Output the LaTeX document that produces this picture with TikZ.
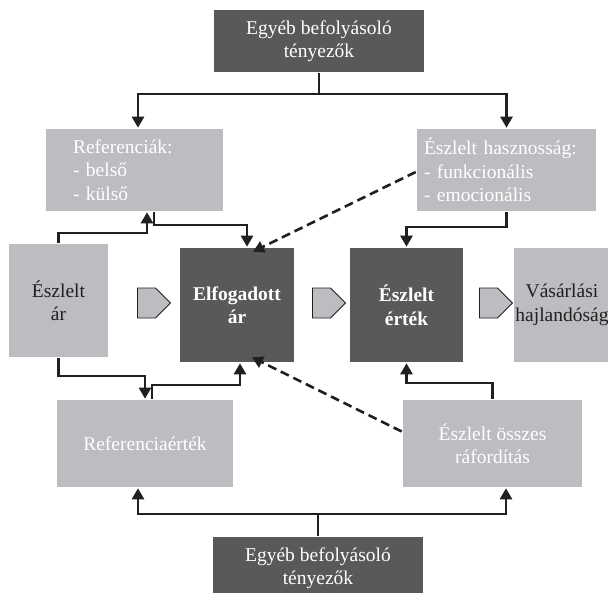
\documentclass[tikz,border=0pt]{standalone}
\usepackage{fontspec}
\setmainfont{Liberation Serif}
\usetikzlibrary{arrows.meta,shapes.symbols}
\definecolor{boxdark}{HTML}{58595B}
\definecolor{boxlight}{HTML}{BCBDC0}
\definecolor{txtdark}{HTML}{231F20}
\tikzset{
  darkbox/.style={fill=boxdark, text=white, align=center, inner sep=0pt},
  lightbox/.style={fill=boxlight, inner sep=0pt},
  stepsign/.style={signal, signal to=east, draw=txtdark, line width=0.9pt, fill=boxlight,
    minimum width=33pt, minimum height=30pt, inner sep=0pt},
}
\begin{document}
\begin{tikzpicture}[x=1pt, y=-1pt, line width=2.6pt, >={Triangle[length=11pt,width=12pt]},
    font=\fontsize{19.5}{23.5}\selectfont]
  \useasboundingbox (0,0) rectangle (608,592);
  % dobozok
  \node[darkbox, minimum width=210, minimum height=62] (top) at (319,41) {Egyéb befolyásoló\\tényezők};
  \node[lightbox, text=white, text width=123, inner xsep=27, align=left, minimum height=82] (ref) at (134.5,170)
    {Referenciák:\\- belső\\- külső};
  \node[lightbox, text=white, text width=165, inner xsep=7, align=left, minimum height=82] (haszn) at (506.5,170)
    {Észlelt hasznosság:\\- funkcionális\\- emocionális};
  \node[lightbox, text=txtdark, align=center, minimum width=99, minimum height=113] (ar) at (58.5,300.5) {Észlelt\\ár};
  \node[darkbox, font=\fontsize{19.5}{23.5}\selectfont\bfseries, minimum width=114, minimum height=114] (elf) at (237,305) {Elfogadott\\ár};
  \node[darkbox, font=\fontsize{19.5}{23.5}\selectfont\bfseries, minimum width=113, minimum height=114] (ert) at (406.5,305) {Észlelt\\érték};
  \node[lightbox, text=txtdark, align=center, minimum width=96, minimum height=114] (vas) at (562,305) {Vásárlási\\hajlandóság};
  \node[lightbox, text=white, minimum width=176, minimum height=87] (rv) at (145,443.5) {Referenciaérték};
  \node[lightbox, text=white, align=center, minimum width=179, minimum height=87] (rf) at (492.5,443.5) {Észlelt összes\\ráfordítás};
  \node[darkbox, minimum width=210, minimum height=62] (bot) at (318,568) {Egyéb befolyásoló\\tényezők};
  % nyilak
  \node[stepsign] (s1) at (146.5,303) {};
  \node[stepsign] (s2) at (321.5,303) {};
  \node[stepsign] (s3) at (488.5,303) {};
  % kapcsolatok
  \coordinate (tj) at (319,94);
  \coordinate (bj) at (318,514);
  \draw[txtdark] (top) -- (tj);
  \draw[->, txtdark] (tj) -| ([xshift=3.5]ref.north);
  \draw[->, txtdark] (tj) -| (haszn.north);
  \draw[->, txtdark] (ar.north) |- (147,233) -- ([xshift=12.5]ref.south);
  \draw[->, txtdark] ([xshift=19.5]ref.south) |- (200,225) -| ([xshift=10]elf.north);
  \draw[->, txtdark] (haszn.south) |- (450,227) -| (ert.north);
  \draw[->, txtdark] (ar.south) |- (100,376) -| (rv.north);
  \draw[->, txtdark] ([xshift=7]rv.north) |- (200,385) -| ([xshift=3]elf.south);
  \draw[->, txtdark] (rf.north) |- (450,383) -| (ert.south);
  \draw[txtdark] (bot) -- (bj);
  \draw[->, txtdark] (bj) -| ([xshift=-7]rv.south);
  \draw[->, txtdark] (bj) -| ([xshift=13.5]rf.south);
  \draw[->, txtdark, dashed, dash pattern=on 9pt off 5pt] ([yshift=-2]haszn.west) -- ([xshift=16,yshift=-5]elf.north);
  \draw[->, txtdark, dashed, dash pattern=on 9pt off 5pt] ([yshift=12]rf.west) -- ([xshift=15,yshift=6]elf.south);
\end{tikzpicture}
\end{document}
